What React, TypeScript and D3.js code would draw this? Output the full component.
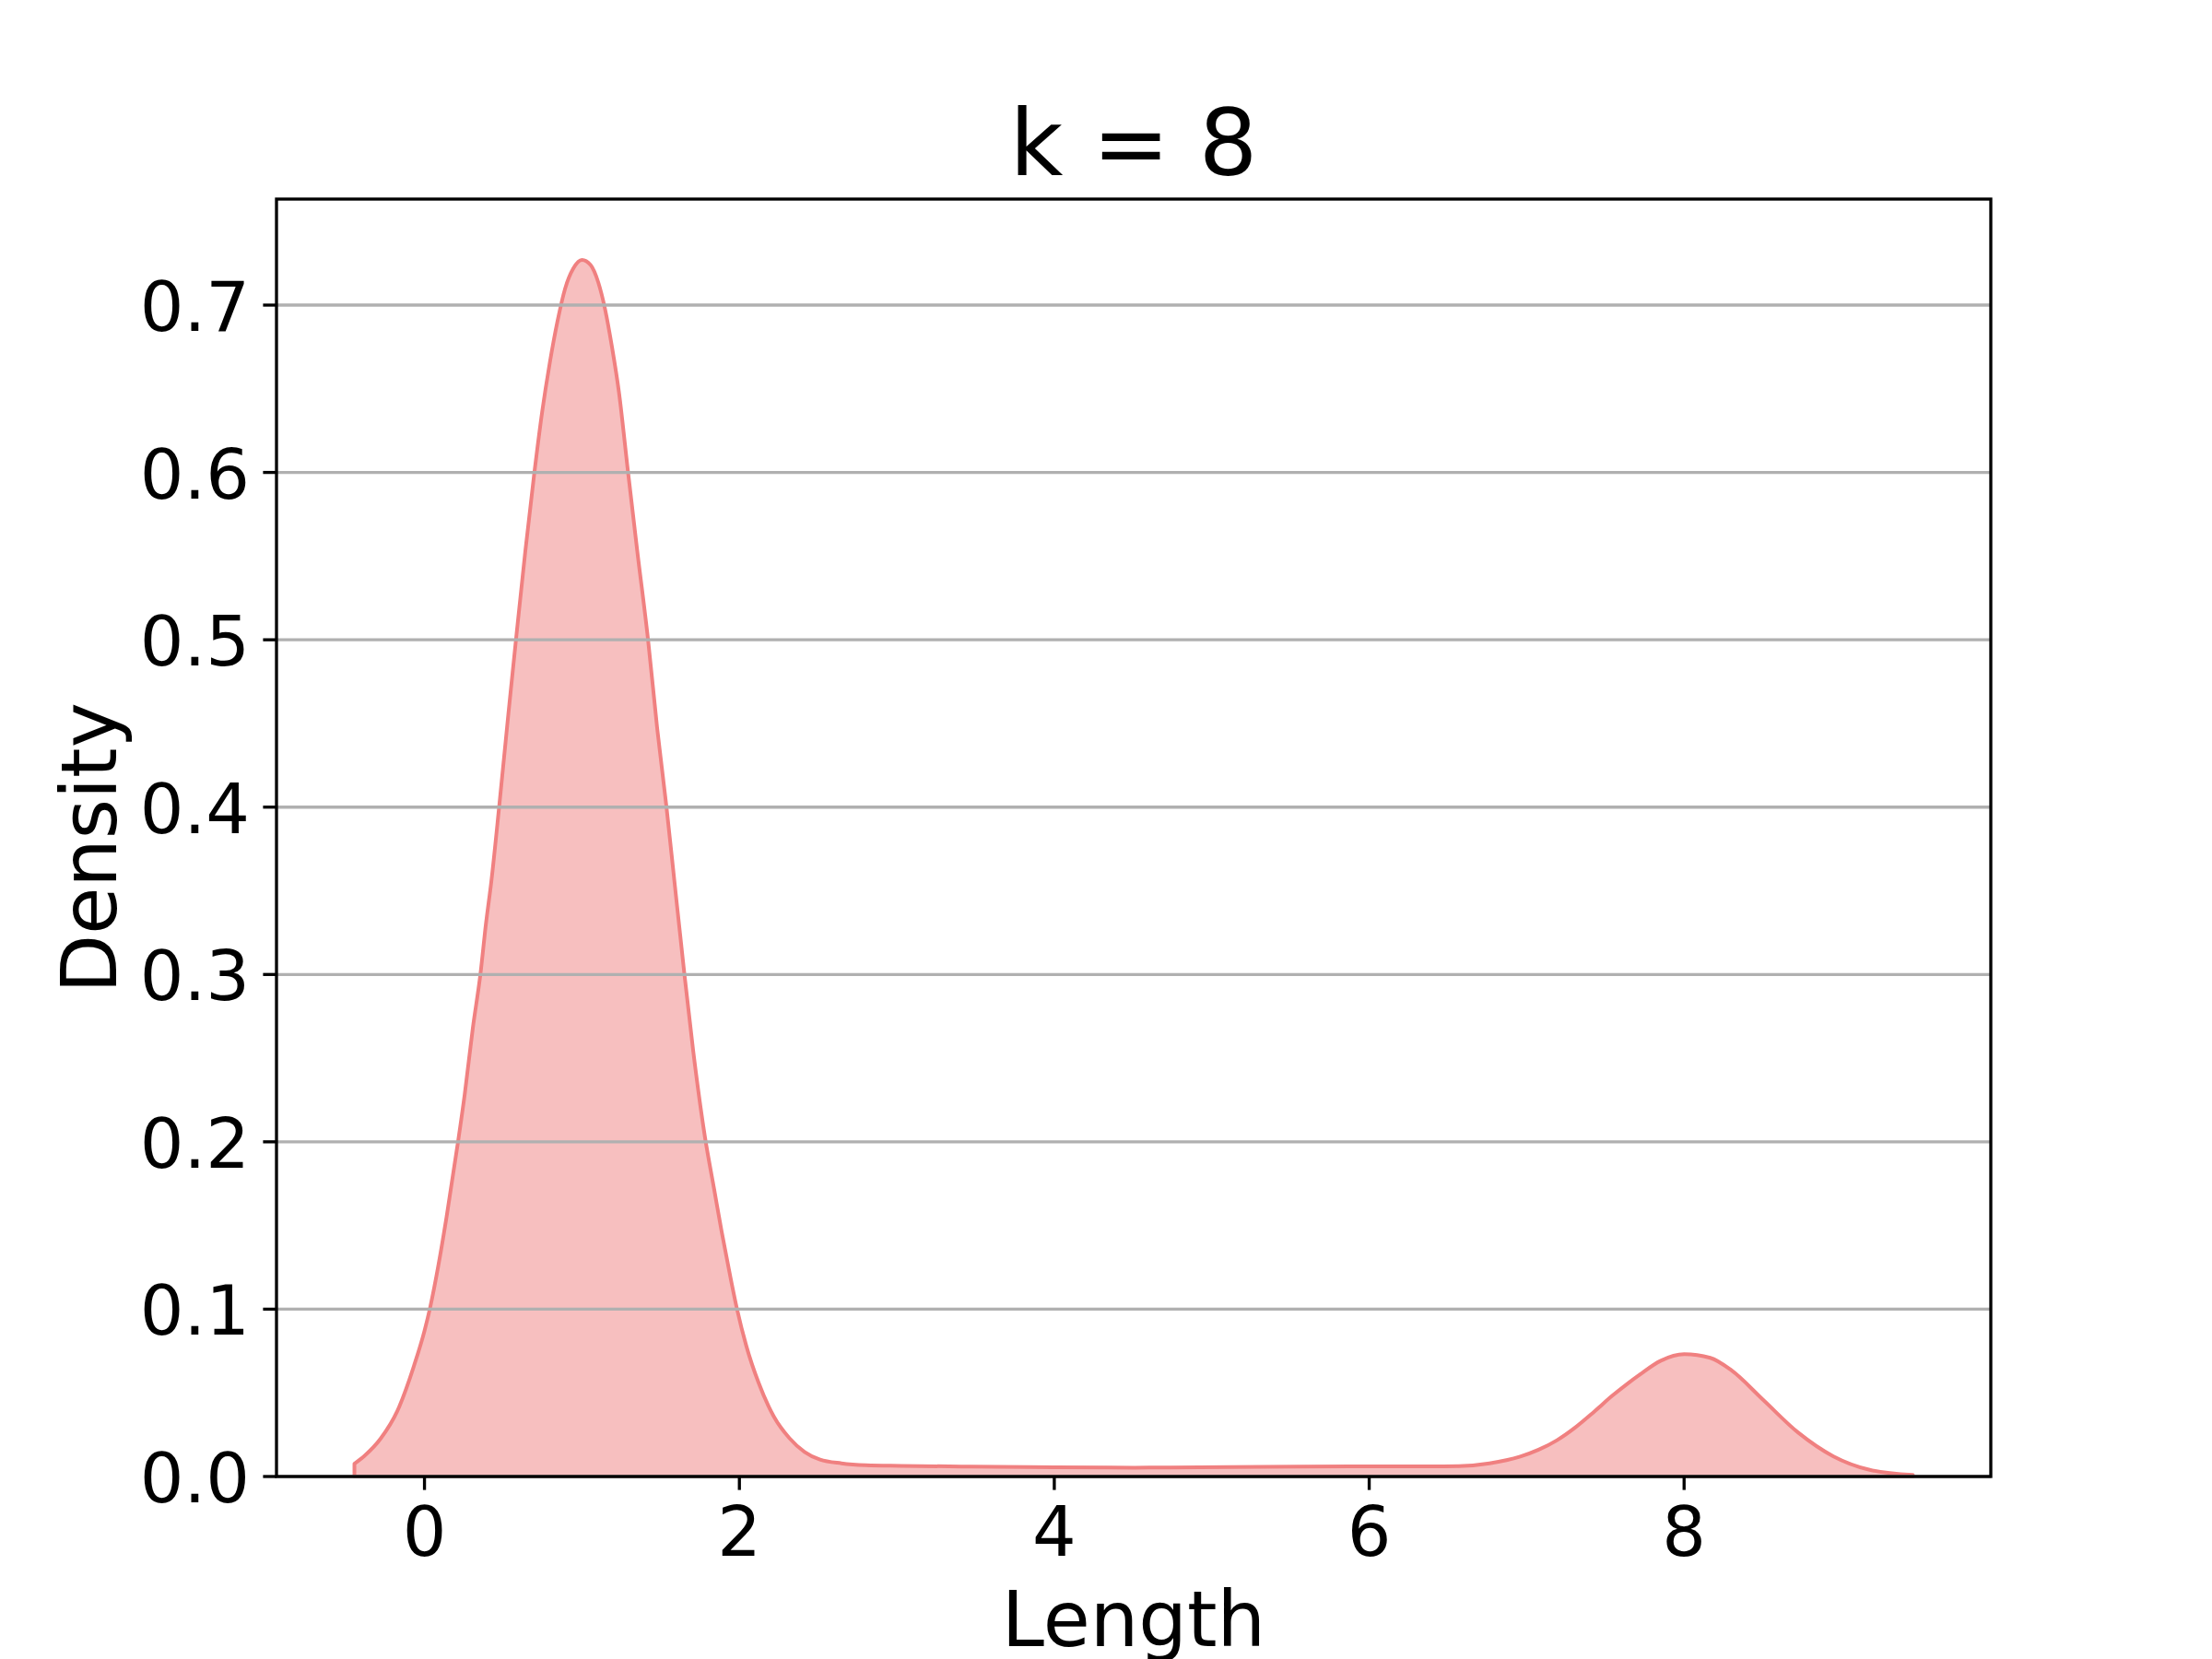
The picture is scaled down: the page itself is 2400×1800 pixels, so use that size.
import React from "react";
import * as d3 from "d3";

// KDE curve (Length -> Density)
const lengthValues = [
  -0.445, -0.382, -0.278, -0.173, -0.069, 0.0, 0.036, 0.088, 0.14, 0.213, 0.255, 0.307, 0.355,
  0.39, 0.425, 0.474, 0.532, 0.581, 0.64, 0.698, 0.747, 0.796, 0.844, 0.893, 0.946, 1.0, 1.055,
  1.104, 1.147, 1.19, 1.235, 1.293, 1.352, 1.42, 1.478, 1.537, 1.587, 1.651, 1.707, 1.781, 1.839,
  1.888, 1.937, 1.985, 2.044, 2.122, 2.219, 2.317, 2.414, 2.512, 2.648, 2.805, 3.025, 3.47, 4.0,
  4.51, 5.11, 5.56, 6.0, 6.374, 6.569, 6.764, 6.959, 7.076, 7.193, 7.31, 7.427, 7.544, 7.642,
  7.717, 7.852, 8.0, 8.166, 8.3, 8.5, 8.725, 8.949, 9.173, 9.453,
];
const densityValues = [
  0.0077, 0.0123, 0.0227, 0.039, 0.0655, 0.087, 0.101, 0.126, 0.155, 0.2, 0.228, 0.268, 0.3,
  0.33, 0.356, 0.4, 0.455, 0.5, 0.5526, 0.6, 0.636, 0.6656, 0.69, 0.7098, 0.722, 0.727, 0.724,
  0.7135, 0.6975, 0.6754, 0.648, 0.6, 0.5526, 0.5, 0.447, 0.4, 0.356, 0.3, 0.254, 0.203, 0.172,
  0.146, 0.122, 0.1, 0.078, 0.056, 0.0358, 0.023, 0.0147, 0.0101, 0.0079, 0.0068, 0.0064, 0.0059,
  0.0055, 0.0053, 0.0056, 0.0059, 0.0061, 0.006, 0.0062, 0.0079, 0.0119, 0.016, 0.0217, 0.0294,
  0.0386, 0.0483, 0.0556, 0.0608, 0.0692, 0.0731, 0.0709, 0.0635, 0.046, 0.0262, 0.012, 0.0041,
  0.0009,
];
const xTicks = [0, 2, 4, 6, 8];
const yTicks = [0, 0.1, 0.2, 0.3, 0.4, 0.5, 0.6, 0.7];
const titleText = "k = 8";
const xLabel = "Length";
const yLabel = "Density";

const W = 2400;
const H = 1800;
const M = { left: 300, right: 2160, top: 216, bottom: 1602 };
const FONT = "'DejaVu Sans', sans-serif";
const COLOR = "#f08080";

export default function App() {
  const data = lengthValues.map((x, i) => ({ x, y: densityValues[i] }));
  const xmin = d3.min(lengthValues) as number;
  const xmax = d3.max(lengthValues) as number;
  const span = xmax - xmin;
  const ymax = (d3.max(densityValues) as number) * 1.05;

  const x = d3.scaleLinear().domain([xmin - 0.05 * span, xmax + 0.05 * span]).range([M.left, M.right]);
  const y = d3.scaleLinear().domain([0, ymax]).range([M.bottom, M.top]);

  const area = d3
    .area<{ x: number; y: number }>()
    .x((d) => x(d.x))
    .y0(y(0))
    .y1((d) => y(d.y))
    .curve(d3.curveMonotoneX);

  const tickLen = 14.6;
  const lw = 3.33;

  return (
    <svg
      width={W}
      height={H}
      viewBox={`0 0 ${W} ${H}`}
      style={{ position: "absolute", left: 0, top: 0, background: "#fff" }}
      fontFamily={FONT}
    >
      <rect x={0} y={0} width={W} height={H} fill="#fff" />
      <path d={area(data) || ""} fill={COLOR} fillOpacity={0.5} stroke={COLOR} strokeWidth={4} strokeLinejoin="round" />
      {yTicks.map((t) => (
        <line key={"g" + t} x1={M.left} x2={M.right} y1={y(t)} y2={y(t)} stroke="#b0b0b0" strokeWidth={lw} />
      ))}
      <rect
        x={M.left}
        y={M.top}
        width={M.right - M.left}
        height={M.bottom - M.top}
        fill="none"
        stroke="#000"
        strokeWidth={lw}
        strokeLinecap="square"
      />
      {xTicks.map((t) => (
        <g key={"x" + t}>
          <line x1={x(t)} x2={x(t)} y1={M.bottom} y2={M.bottom + tickLen} stroke="#000" strokeWidth={lw} />
          <text x={x(t)} y={1688} textAnchor="middle" fontSize={75} fill="#000">
            {t}
          </text>
        </g>
      ))}
      {yTicks.map((t) => (
        <g key={"y" + t}>
          <line x1={M.left - tickLen} x2={M.left} y1={y(t)} y2={y(t)} stroke="#000" strokeWidth={lw} />
          <text x={271} y={y(t) + 28} textAnchor="end" fontSize={75} fill="#000">
            {t.toFixed(1)}
          </text>
        </g>
      ))}
      <text x={(M.left + M.right) / 2} y={190} textAnchor="middle" fontSize={100} fill="#000">
        {titleText}
      </text>
      <text x={(M.left + M.right) / 2} y={1786} textAnchor="middle" fontSize={83} fill="#000">
        {xLabel}
      </text>
      <text
        transform={`translate(126, 920) rotate(-90)`}
        textAnchor="middle"
        fontSize={83}
        fill="#000"
      >
        {yLabel}
      </text>
    </svg>
  );
}
